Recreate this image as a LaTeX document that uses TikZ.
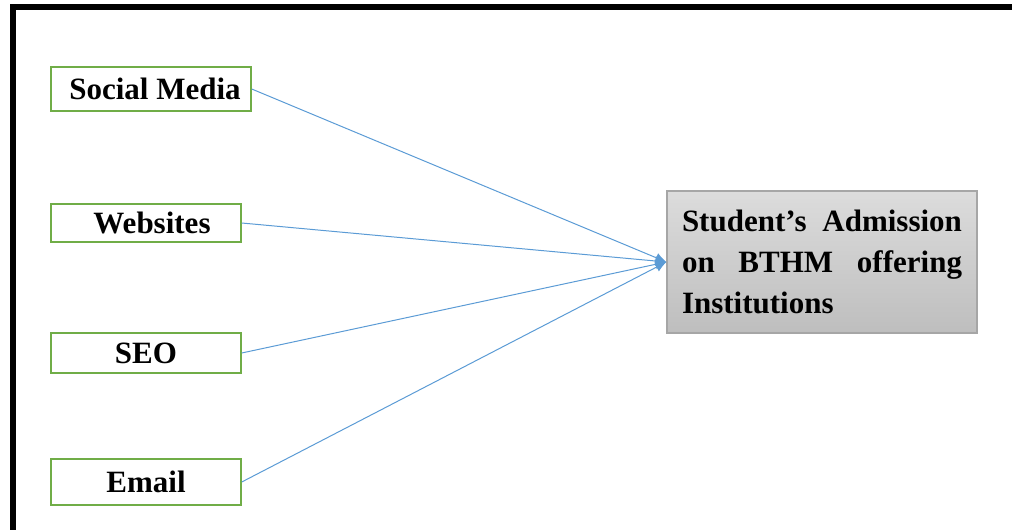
\documentclass[tikz,border=0pt]{standalone}
\usepackage{fontspec}
\setmainfont{Liberation Serif}
\usetikzlibrary{arrows.meta}
\definecolor{boxgreen}{HTML}{70AD47}
\definecolor{linkblue}{HTML}{5B9BD5}
\definecolor{tgtborder}{HTML}{A6A6A6}
\definecolor{tgttop}{HTML}{DCDCDC}
\definecolor{tgtbot}{HTML}{BEBEBE}
\tikzset{
  srcbox/.style={draw=boxgreen, line width=1.5pt, fill=white, minimum height=44pt, inner sep=0pt,
    font=\fontsize{31}{37}\selectfont\bfseries, text=black},
  tgtbox/.style={draw=tgtborder, line width=1.2pt, top color=tgttop, bottom color=tgtbot,
    minimum width=310pt, minimum height=142pt, text width=280pt, align=justify, inner sep=0pt,
    font=\fontsize{31}{41}\selectfont\bfseries},
  link/.style={draw=linkblue, line width=1pt, -{Latex[length=11pt,width=10pt]}},
  frameline/.style={line width=6pt, black}
}
\begin{document}
\begin{tikzpicture}[x=1pt,y=-1pt]
\useasboundingbox (0,0) rectangle (1012,530);
\draw[frameline] (13,530) -- (13,7) -- (1012,7);
\node[srcbox, minimum width=200pt] (sm) at (151,89) {\hspace*{8pt}Social Media};
\node[srcbox, minimum width=190pt, minimum height=38pt] (web) at (146,223) {\hspace*{12pt}Websites};
\node[srcbox, minimum width=190pt, minimum height=40pt] (seo) at (146,353) {SEO};
\node[srcbox, minimum width=190pt, minimum height=46pt] (em) at (146,482) {Email};
\node[tgtbox] (t) at (822,262) {Student’s Admission\linebreak on BTHM offering\linebreak Institutions};
\draw[link] (sm.east) -- (t.west);
\draw[link] (web.east) -- (t.west);
\draw[link] (seo.east) -- (t.west);
\draw[link] (em.east) -- (t.west);
\end{tikzpicture}
\end{document}
